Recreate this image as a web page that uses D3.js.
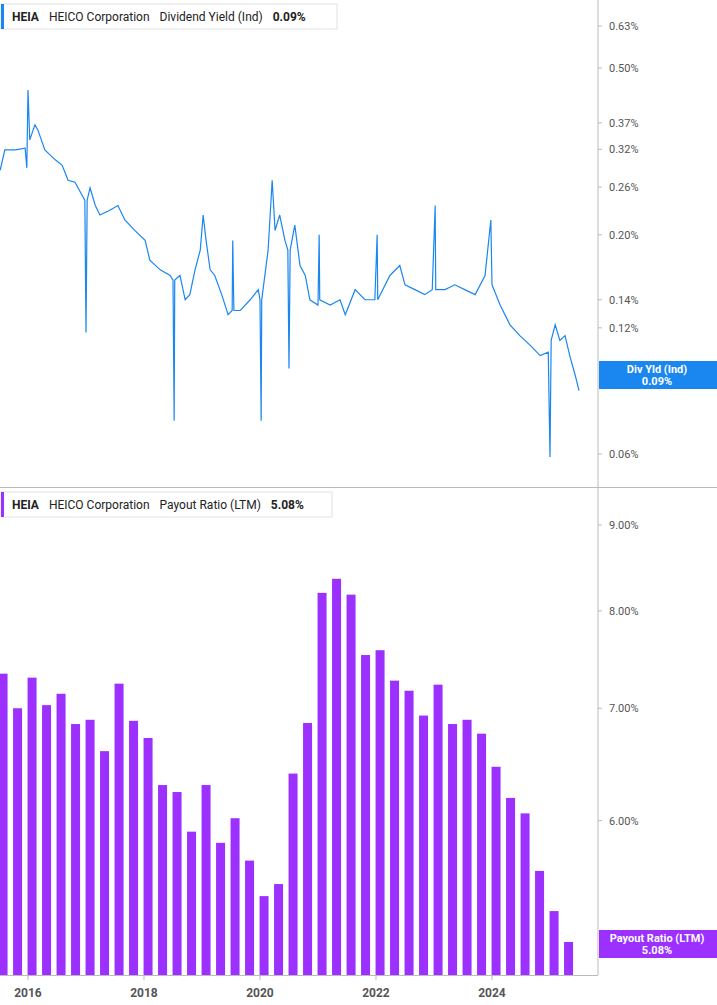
<!DOCTYPE html>
<html><head><meta charset="utf-8">
<script src="https://cdn.jsdelivr.net/npm/d3@7"></script>
<style>body{margin:0;background:#fff;font-family:Roboto,"Open Sans",sans-serif}</style>
</head><body><div id="chart"></div>
<script>
// dividend yield (%), [decimal year, value]
var yieldSeries = [[2015.52,0.285],[2015.60,0.319],[2015.78,0.319],[2015.95,0.322],[2015.98,0.289],[2016.00,0.443],
 [2016.03,0.337],[2016.12,0.366],[2016.17,0.356],[2016.29,0.319],[2016.47,0.302],[2016.59,0.293],[2016.69,0.270],
 [2016.81,0.267],[2016.93,0.249],[2016.98,0.242],[2017.00,0.117],[2017.02,0.242],[2017.07,0.259],[2017.16,0.235],
 [2017.24,0.223],[2017.41,0.229],[2017.55,0.235],[2017.67,0.217],[2017.84,0.205],[2018.02,0.194],[2018.10,0.174],
 [2018.28,0.165],[2018.45,0.160],[2018.50,0.156],[2018.52,0.072],[2018.53,0.156],[2018.62,0.160],[2018.71,0.140],
 [2018.79,0.144],[2018.88,0.165],[2018.97,0.184],[2019.02,0.223],[2019.07,0.194],[2019.14,0.165],[2019.22,0.160],
 [2019.34,0.144],[2019.45,0.129],[2019.52,0.132],[2019.53,0.194],[2019.55,0.132],[2019.66,0.132],[2019.83,0.140],
 [2019.97,0.148],[2020.00,0.140],[2020.02,0.072],[2020.03,0.140],[2020.14,0.184],[2020.21,0.270],[2020.26,0.205],
 [2020.34,0.223],[2020.43,0.194],[2020.48,0.184],[2020.50,0.096],[2020.52,0.184],[2020.60,0.211],[2020.69,0.169],
 [2020.78,0.160],[2020.86,0.140],[2021.00,0.136],[2021.02,0.200],[2021.03,0.140],[2021.21,0.136],[2021.38,0.140],
 [2021.47,0.129],[2021.64,0.148],[2021.81,0.140],[2021.98,0.140],[2022.02,0.200],[2022.03,0.140],[2022.24,0.160],
 [2022.41,0.169],[2022.50,0.152],[2022.67,0.148],[2022.84,0.144],[2022.97,0.148],[2023.02,0.235],[2023.03,0.148],
 [2023.19,0.148],[2023.36,0.152],[2023.53,0.148],[2023.71,0.144],[2023.88,0.160],[2023.98,0.217],[2024.00,0.152],
 [2024.14,0.136],[2024.31,0.122],[2024.48,0.115],[2024.66,0.109],[2024.83,0.103],[2024.97,0.105],[2025.00,0.059],
 [2025.02,0.112],[2025.09,0.122],[2025.17,0.112],[2025.26,0.115],[2025.34,0.103],[2025.43,0.093],[2025.50,0.085]];
// payout ratio (%) quarterly, starting 2015 Q3
var payoutStart = 2015.57;
var payoutValues = [7.34,7.00,7.30,7.03,7.14,6.85,6.89,6.60,7.24,6.88,6.72,6.30,6.24,5.91,6.30,5.82,6.02,5.68,5.41,5.50,
 6.40,6.86,8.20,8.36,8.18,7.53,7.58,7.27,7.17,6.93,7.23,6.85,6.89,6.76,6.46,6.19,6.06,5.60,5.30,5.08];
var yieldTicks = [0.63,0.50,0.37,0.32,0.26,0.20,0.14,0.12,0.06];
var payoutTicks = [9,8,7,6];
var yearTicks = [2016,2018,2020,2022,2024];

var W = 717, H = 1005, plotR = 598;
var blue = '#1a86f0', purple = '#9b30ff';
var svg = d3.select('#chart').append('svg').attr('width', W).attr('height', H);

var x = d3.scaleLinear().domain([2016, 2024]).range([28, 492]);
var y1 = d3.scaleLog().domain([0.63, 0.06]).range([26, 454]);
var y2 = d3.scaleLog().domain([9, 5.08]).range([525, 942]);

// grid frame
svg.append('line').attr('x1', plotR).attr('x2', plotR).attr('y1', 0).attr('y2', 975).attr('stroke', '#bbb');
svg.append('line').attr('x1', 0).attr('x2', W).attr('y1', 487.5).attr('y2', 487.5).attr('stroke', '#bbb');
svg.append('line').attr('x1', 0).attr('x2', plotR).attr('y1', 975.5).attr('y2', 975.5).attr('stroke', '#bbb');

// right axes
function rightAxis(scale, ticks, fmt) {
    var g = svg.append('g');
    ticks.forEach(function(t) {
        g.append('line').attr('x1', plotR).attr('x2', plotR + 4).attr('y1', scale(t)).attr('y2', scale(t)).attr('stroke', '#bbb');
        g.append('text').attr('x', 609).attr('y', scale(t) + 4).attr('font-size', 11).attr('fill', '#555').text(fmt(t));
    });
}
rightAxis(y1, yieldTicks, function(d) { return d.toFixed(2) + '%'; });
rightAxis(y2, payoutTicks, function(d) { return d.toFixed(2) + '%'; });

// line
svg.append('path').datum(yieldSeries)
    .attr('d', d3.line().x(function(d) { return x(d[0]); }).y(function(d) { return y1(d[1]); }))
    .attr('fill', 'none').attr('stroke', blue).attr('stroke-width', 1.2);

// bars
var step = x(2016.25) - x(2016);
svg.append('g').selectAll('rect').data(payoutValues).enter().append('rect')
    .attr('x', function(d, i) { return x(payoutStart + i * 0.25) - 4.5; })
    .attr('width', 9)
    .attr('y', function(d) { return y2(d); })
    .attr('height', function(d) { return 975 - y2(d); })
    .attr('fill', purple);

// x axis
yearTicks.forEach(function(t) {
    svg.append('line').attr('x1', x(t)).attr('x2', x(t)).attr('y1', 975).attr('y2', 980).attr('stroke', '#bbb');
    svg.append('text').attr('x', x(t)).attr('y', 997).attr('text-anchor', 'middle')
        .attr('font-size', 12).attr('font-weight', 'bold').attr('fill', '#555').text(t);
});

// legends
function legend(yTop, color, label, value, w) {
    var g = svg.append('g');
    g.append('rect').attr('x', 1).attr('y', yTop).attr('width', w).attr('height', 25).attr('fill', '#fff').attr('stroke', '#e2e2e2');
    g.append('rect').attr('x', 1).attr('y', yTop).attr('width', 3).attr('height', 25).attr('fill', color);
    var t = g.append('text').attr('x', 12).attr('y', yTop + 17).attr('font-size', 12).attr('fill', '#222');
    t.append('tspan').attr('font-weight', 'bold').text('HEIA');
    t.append('tspan').attr('dx', 10).text('HEICO Corporation');
    t.append('tspan').attr('dx', 10).text(label);
    t.append('tspan').attr('dx', 10).attr('font-weight', 'bold').text(value);
}
legend(4, blue, 'Dividend Yield (Ind)', '0.09%', 336);
legend(492, purple, 'Payout Ratio (LTM)', '5.08%', 331);

function tag(yTop, color, label, value) {
    var g = svg.append('g');
    g.append('rect').attr('x', plotR + 1).attr('y', yTop).attr('width', W - plotR).attr('height', 28).attr('fill', color);
    g.append('text').attr('x', 657).attr('y', yTop + 12).attr('text-anchor', 'middle').attr('font-size', 11)
        .attr('font-weight', 'bold').attr('fill', '#fff').text(label);
    g.append('text').attr('x', 657).attr('y', yTop + 24).attr('text-anchor', 'middle').attr('font-size', 11)
        .attr('font-weight', 'bold').attr('fill', '#fff').text(value);
}
tag(361, blue, 'Div Yld (Ind)', '0.09%');
tag(930, purple, 'Payout Ratio (LTM)', '5.08%');
</script>
</body></html>
